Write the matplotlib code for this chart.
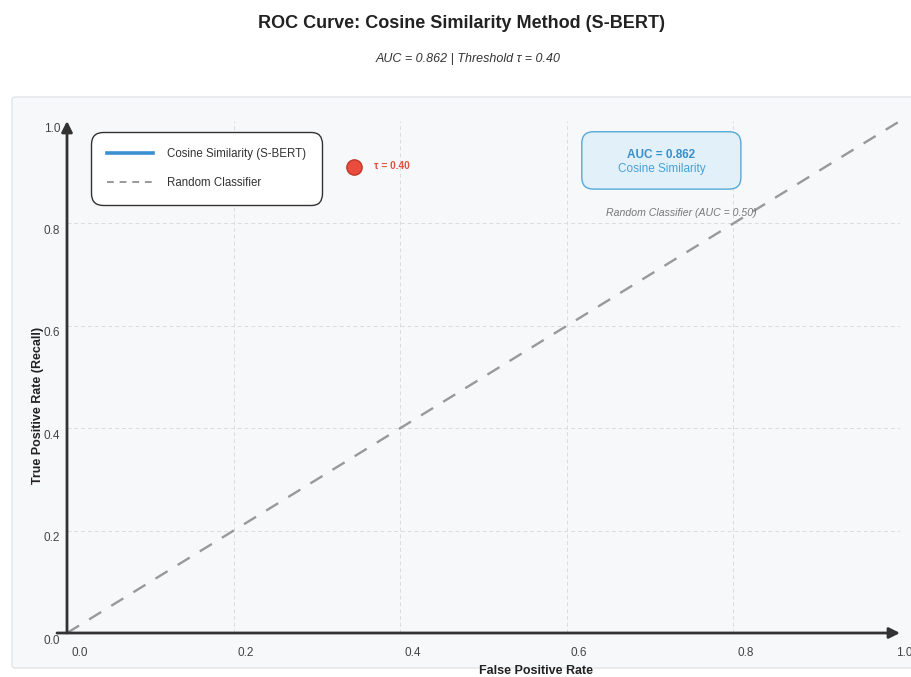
import numpy as np
import matplotlib
matplotlib.use("Agg")
import matplotlib.pyplot as plt
import matplotlib.transforms as mtransforms
from matplotlib.patches import FancyBboxPatch

plt.rcParams['font.family'] = ['Liberation Sans', 'DejaVu Sans']

# Data
ticks = [0.0, 0.2, 0.4, 0.6, 0.8, 1.0]
tick_labels = ['0.0', '0.2', '0.4', '0.6', '0.8', '1.0']
random_fpr = [0.0, 1.0]
random_tpr = [0.0, 1.0]
roc_fpr = []          # curve not rendered in the source image
roc_tpr = []
tau_fpr = 0.345
tau_tpr = 0.91
auc = 0.862
tau = 0.40

W, H = 912, 677
fig = plt.figure(figsize=(W / 100, H / 100), dpi=100)
fig.patch.set_facecolor('white')

# Light panel behind the plot
panel = FancyBboxPatch((12 / W, 1 - 668 / H), 905 / W, 571 / H,
                       boxstyle='round,pad=0,rounding_size=0.004',
                       transform=fig.transFigure, facecolor='#f7f8fa',
                       edgecolor='#e2e4e8', linewidth=1.0, zorder=-5)
fig.patches.append(panel)

ax = fig.add_axes([67 / W, 44 / H, 833 / W, 512 / H])
ax.set_facecolor('none')
ax.set_xlim(0, 1)
ax.set_ylim(0, 1)
for s in ax.spines.values():
    s.set_visible(False)

# dashed grid on the inner ticks
ax.vlines(ticks[1:-1], 0, 1, colors='#dcdcdc', linestyles=(0, (4, 3)), linewidth=0.7, zorder=1)
ax.hlines(ticks[1:-1], 0, 1, colors='#dcdcdc', linestyles=(0, (4, 3)), linewidth=0.7, zorder=1)

# ticks
ax.set_xticks(ticks)
ax.set_xticklabels(tick_labels)
ax.set_yticks(ticks)
ax.set_yticklabels(tick_labels)
ax.tick_params(length=0, labelsize=8.5, labelcolor='#444444')
ax.tick_params(axis='x', pad=10)
ax.tick_params(axis='y', pad=5)
dx = mtransforms.ScaledTranslation(0.04, 0, fig.dpi_scale_trans)
dy = mtransforms.ScaledTranslation(0, -0.06, fig.dpi_scale_trans)
for i, lbl in enumerate(ax.get_xticklabels()):
    lbl.set_ha('left' if i < len(ticks) - 1 else 'center')
    lbl.set_transform(lbl.get_transform() + dx)
for lbl in ax.get_yticklabels():
    lbl.set_transform(lbl.get_transform() + dy)

# axis arrows
arrow = dict(arrowstyle='-|>', color='#333333', lw=2, mutation_scale=16, shrinkA=0, shrinkB=0)
ax.annotate('', xy=(1.0, 0), xytext=(-0.012, 0), arrowprops=arrow, annotation_clip=False, zorder=4)
ax.annotate('', xy=(0, 1.0), xytext=(0, 0), arrowprops=arrow, annotation_clip=False, zorder=4)

# curves
ax.plot(roc_fpr, roc_tpr, color='#3a8fd0', linewidth=2.2, label='Cosine Similarity (S-BERT)')
ax.plot(random_fpr, random_tpr, color='#999999', linewidth=1.7, linestyle=(0, (6, 5)),
        label='Random Classifier', zorder=3, clip_on=False)

# threshold point
ax.plot([tau_fpr], [tau_tpr], 'o', color='#e74c3c', markeredgecolor='#c0392b',
        markersize=11, markeredgewidth=1.0, zorder=5, clip_on=False)
ax.annotate(f'\u03c4 = {tau:.2f}', (tau_fpr, tau_tpr), xytext=(14, 1), textcoords='offset points',
            fontsize=7.3, color='#e05040', fontweight='bold', va='center')

# AUC box
bx0, bx1 = 0.618, 0.809
by0, by1 = 0.867, 0.979
box = FancyBboxPatch((bx0, by0), bx1 - bx0, by1 - by0,
                     boxstyle='round,pad=0,rounding_size=0.014', mutation_aspect=833 / 512,
                     facecolor='#e2f1f9', edgecolor='#55a8d6', linewidth=1.0, zorder=4)
ax.add_patch(box)
ax.text((bx0 + bx1) / 2, 0.934, f'AUC = {auc:.3f}', ha='center', va='center',
        fontsize=8.5, fontweight='bold', color='#3a8fc8', zorder=5)
ax.text((bx0 + bx1) / 2, 0.906, 'Cosine Similarity', ha='center', va='center',
        fontsize=8.5, color='#4a9fd5', zorder=5)

ax.text(0.737, 0.82, 'Random Classifier (AUC = 0.50)', ha='center', va='center',
        fontsize=7.6, style='italic', color='#777777', zorder=5)

# legend
leg = ax.legend(loc='upper left', bbox_to_anchor=(91 / W, 1 - 132 / H),
                bbox_transform=fig.transFigure, borderaxespad=0, fontsize=8.3,
                handlelength=4.0, handletextpad=1.2, labelspacing=1.45, borderpad=1.4,
                frameon=True, framealpha=1, fancybox=True)
frame = leg.get_frame()
frame.set_edgecolor('#333333')
frame.set_linewidth(1.0)
frame.set_facecolor('white')
frame.set_boxstyle('round,pad=0,rounding_size=1.0')
leg.legend_handles[0].set_linewidth(2.6)
leg.legend_handles[1].set_linestyle((0, (3.5, 3)))
leg.legend_handles[1].set_linewidth(1.4)
leg.set_zorder(6)
for t in leg.get_texts():
    t.set_color('#333333')

# titles
fig.text(461 / W, 1 - 23 / H, 'ROC Curve: Cosine Similarity Method (S-BERT)', ha='center', va='center',
         fontsize=13, fontweight='bold', color='#222222')
fig.text(468 / W, 1 - 59 / H, f'AUC = {auc:.3f} | Threshold \u03c4 = {tau:.2f}', ha='center', va='center',
         fontsize=9, style='italic', color='#333333')
fig.text(536 / W, 1 - 671 / H, 'False Positive Rate', ha='center', va='center',
         fontsize=9, fontweight='bold', color='#222222')
fig.text(38 / W, 1 - 405 / H, 'True Positive Rate (Recall)', ha='center', va='center', rotation=90,
         fontsize=9, fontweight='bold', color='#222222')

fig.savefig('out.png', dpi=100)
